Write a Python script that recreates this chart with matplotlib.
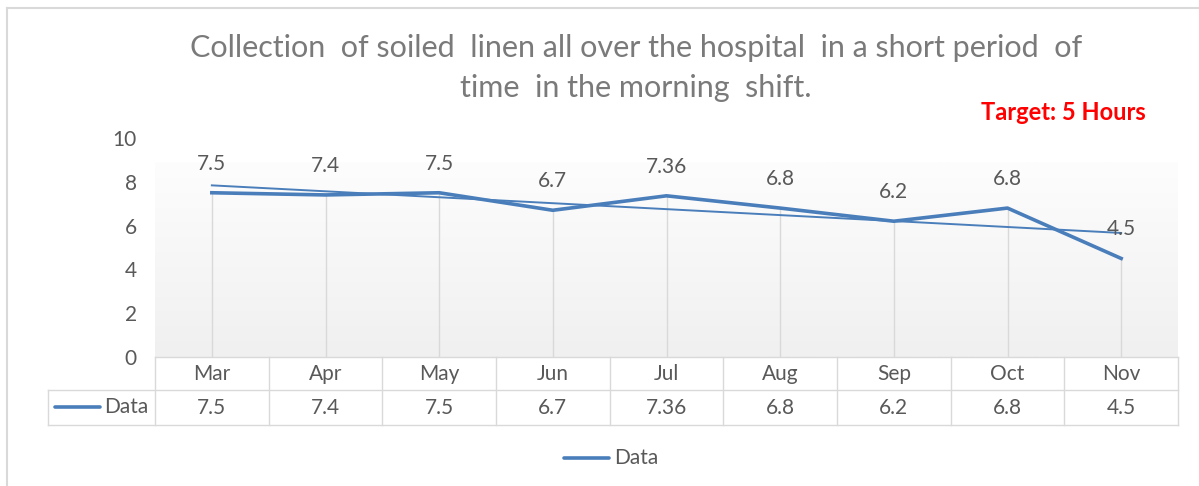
import numpy as np
import matplotlib.pyplot as plt
from matplotlib.lines import Line2D
from matplotlib.colors import LinearSegmentedColormap

months = ['Mar', 'Apr', 'May', 'Jun', 'Jul', 'Aug', 'Sep', 'Oct', 'Nov']
values = [7.5, 7.4, 7.5, 6.7, 7.36, 6.8, 6.2, 6.8, 4.5]
value_labels = ['7.5', '7.4', '7.5', '6.7', '7.36', '6.8', '6.2', '6.8', '4.5']
yticks = [0, 2, 4, 6, 8, 10]
series_name = 'Data'

plt.rcParams['font.family'] = ['Lato', 'DejaVu Sans']
W, H = 1199, 486
blue = '#4a7ebb'
grid = '#d9d9d9'
txt = '#595959'
fs = 15

fig = plt.figure(figsize=(W / 100, H / 100), dpi=100)


def fx(px):
    return px / W


def fy(py):
    return 1 - py / H


# chart frame
fig.add_artist(Line2D([fx(7), fx(7)], [fy(8), 0], color=grid, lw=1.5))
fig.add_artist(Line2D([fx(7), 1], [fy(8), fy(8)], color=grid, lw=1.5))

x0, x1 = 155, 1178
ax = fig.add_axes([fx(x0), fy(357), (x1 - x0) / W, (357 - 138) / H])
x = np.arange(len(months))
ax.set_xlim(-0.5, len(months) - 0.5)
ax.set_ylim(0, 10)

# gradient plot area
cmap = LinearSegmentedColormap.from_list('g', ['#f0f0f0', '#fdfdfd'])
grad = np.linspace(0, 1, 100).reshape(-1, 1)
ax.imshow(grad, cmap=cmap, origin='lower', aspect='auto',
          extent=[-0.5, len(months) - 0.5, 0, 8.9], zorder=0)

# drop lines
ax.vlines(x, 0, values, color=grid, lw=1, zorder=1)

# trendline
k, b = np.polyfit(x, values, 1)
ax.plot(x, k * x + b, color=blue, lw=1.4, zorder=2)
ax.plot(x, values, color=blue, lw=2.6, zorder=3, solid_joinstyle='round')

for xi, v, lab in zip(x, values, value_labels):
    ax.annotate(lab, (xi, v), xytext=(0, 29), textcoords='offset pixels',
                ha='center', va='center', fontsize=fs, color=txt)

ax.set_yticks(yticks)
ax.set_xticks([])
ax.tick_params(axis='y', length=0, pad=13, labelsize=fs, labelcolor=txt)
for s in ax.spines.values():
    s.set_visible(False)

# data table
col_w = (x1 - x0) / len(months)
r0, r1, r2 = 357, 390, 425
lx = 48
fig.add_artist(Line2D([fx(x0), fx(x1)], [fy(r0), fy(r0)], color=grid, lw=1))
for yy in [r1, r2]:
    fig.add_artist(Line2D([fx(lx), fx(x1)], [fy(yy), fy(yy)], color=grid, lw=1))
fig.add_artist(Line2D([fx(lx), fx(lx)], [fy(r1), fy(r2)], color=grid, lw=1))
for i in range(len(months) + 1):
    cx = x0 + i * col_w
    fig.add_artist(Line2D([fx(cx), fx(cx)], [fy(r0), fy(r2)], color=grid, lw=1))
for i, (m, lab) in enumerate(zip(months, value_labels)):
    cx = x0 + (i + 0.5) * col_w
    fig.text(fx(cx), fy((r0 + r1) / 2), m, ha='center', va='center', fontsize=fs, color=txt)
    fig.text(fx(cx), fy((r1 + r2) / 2), lab, ha='center', va='center', fontsize=fs, color=txt)
fig.add_artist(Line2D([fx(55), fx(100)], [fy(407), fy(407)], color=blue, lw=2.6,
                      solid_capstyle='round'))
fig.text(fx(104), fy(407), series_name, ha='left', va='center', fontsize=fs, color=txt)

# legend
fig.add_artist(Line2D([fx(564), fx(609)], [fy(458), fy(458)], color=blue, lw=2.6,
                      solid_capstyle='round'))
fig.text(fx(614), fy(458), series_name, ha='left', va='center', fontsize=fs, color=txt)

# title
fig.text(fx(636), fy(48), 'Collection  of soiled  linen all over the hospital  in a short period  of',
         ha='center', va='center', fontsize=22, color='#7a7a7a')
fig.text(fx(636), fy(88), 'time  in the morning  shift.',
         ha='center', va='center', fontsize=22, color='#7a7a7a')
fig.text(fx(1063), fy(112), 'Target: 5 Hours', ha='center', va='center',
         fontsize=17, fontweight='bold', color='#ff0000')

fig.savefig('out.png', dpi=100)
